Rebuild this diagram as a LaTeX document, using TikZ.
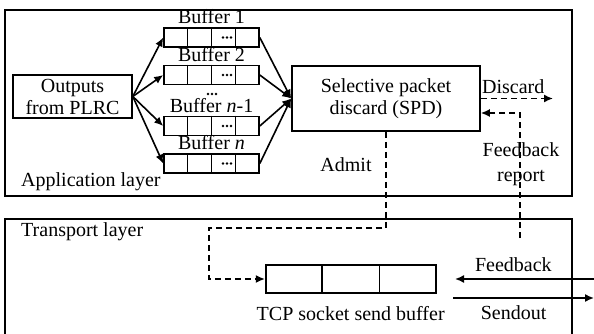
\documentclass[tikz,border=0pt]{standalone}
\usepackage{fontspec}
\setmainfont{Liberation Serif}
\usetikzlibrary{positioning,calc,arrows.meta}

\tikzset{
  box/.style={draw, line width=1.6pt, align=center, inner sep=0pt},
  buf/.style={draw, line width=1.6pt, minimum width=95pt, minimum height=19pt, inner sep=0pt},
  buflabel/.style={inner sep=1pt},
  arr/.style={line width=1.6pt, -{Latex[length=9pt,width=8pt]}},
  darr/.style={arr, dash pattern=on 6pt off 4pt},
}
\newcommand{\threedots}[1]{%
  \foreach \d in {-4,0,4} \fill ($(#1)+(\d,0)$) circle (1.4pt);}

\begin{document}
\begin{tikzpicture}[x=1pt, y=-1pt, font=\fontsize{20}{22}\selectfont]
    \useasboundingbox (0,0) rectangle (594,334);

    % the two layers
    \draw[line width=1.6pt] (5,10) rectangle (572,196);
    \draw[line width=1.6pt] (5,340) -- (5,219) -- (572,219) -- (572,340);
    \node[anchor=west, inner sep=0pt] (applbl) at (21,182) {Application layer};
    \node[anchor=west, inner sep=0pt] (trlbl) at (21,231.5) {Transport layer};

    % application layer
    \node[box, minimum width=119pt, minimum height=43pt] (out) at (72.5,96.5) {Outputs\\from PLRC};
    \node[box, minimum width=188pt, minimum height=65pt] (spd) at (386,98.5) {Selective packet\\discard (SPD)};

    \foreach \n/\y/\t in {b1/37.5/1, b2/75/2, b3/126/\textit{n}-1, b4/163.5/\textit{n}} {
        \node[buf] (\n) at (211.5,\y) {};
        \node[buflabel, above=2pt of \n] {Buffer \t};
        \foreach \i in {1,2,3}
            \draw[line width=1.6pt] ($(\n.north west)!\i/4!(\n.north east)$) -- ($(\n.south west)!\i/4!(\n.south east)$);
        \coordinate (\n dots) at ($(\n.west)!0.66!(\n.east)$);
        \threedots{\n dots}
        \draw[arr] (out.east) -- (\n.west);
        \draw[arr] (\n.east) -- (spd.west);
    }
    \coordinate (vdots) at (212,94);
    \threedots{vdots}

    % discard and feedback report
    \coordinate (dend) at (553,98.5);
    \draw[darr] (spd.east) -- (dend) node[pos=0.45, above=3pt, inner sep=1pt] (dlbl) {Discard};
    \coordinate (fbot) at (520,238);
    \draw[darr] (fbot) |- ($(spd.east)+(0,14.5)$);
    \node[align=center, inner sep=0pt] (fblbl) at (521,164.5) {Feedback\\[3pt]report};

    % transport layer
    \node[draw, line width=1.6pt, minimum width=170pt, minimum height=28pt, inner sep=0pt] (tcp) at (350.7,279) {};
    \foreach \i in {1,2}
        \draw[line width=1.6pt] ($(tcp.north west)!\i/3!(tcp.north east)$) -- ($(tcp.south west)!\i/3!(tcp.south east)$);
    \node[inner sep=1pt, below=11pt of tcp] (tcplbl) {TCP socket send buffer};

    % admit
    \coordinate (acorner) at (209,228);
    \draw[darr] (spd.south) |- (acorner) |- (tcp.west);
    \node[inner sep=0pt] (admlbl) at (346,165) {Admit};

    % feedback in, send out
    \coordinate (fbin) at (594,279);
    \coordinate (fbtip) at (455,279);
    \draw[arr] (fbin) -- (fbtip) node[pos=0.58, above=6pt, inner sep=1pt] (fblbl2) {Feedback};
    \coordinate (sstart) at (453,298);
    \coordinate (send) at (594,298);
    \draw[arr] (sstart) -- (send) node[pos=0.43, below=6pt, inner sep=1pt] (slbl) {Sendout};
\end{tikzpicture}
\end{document}
